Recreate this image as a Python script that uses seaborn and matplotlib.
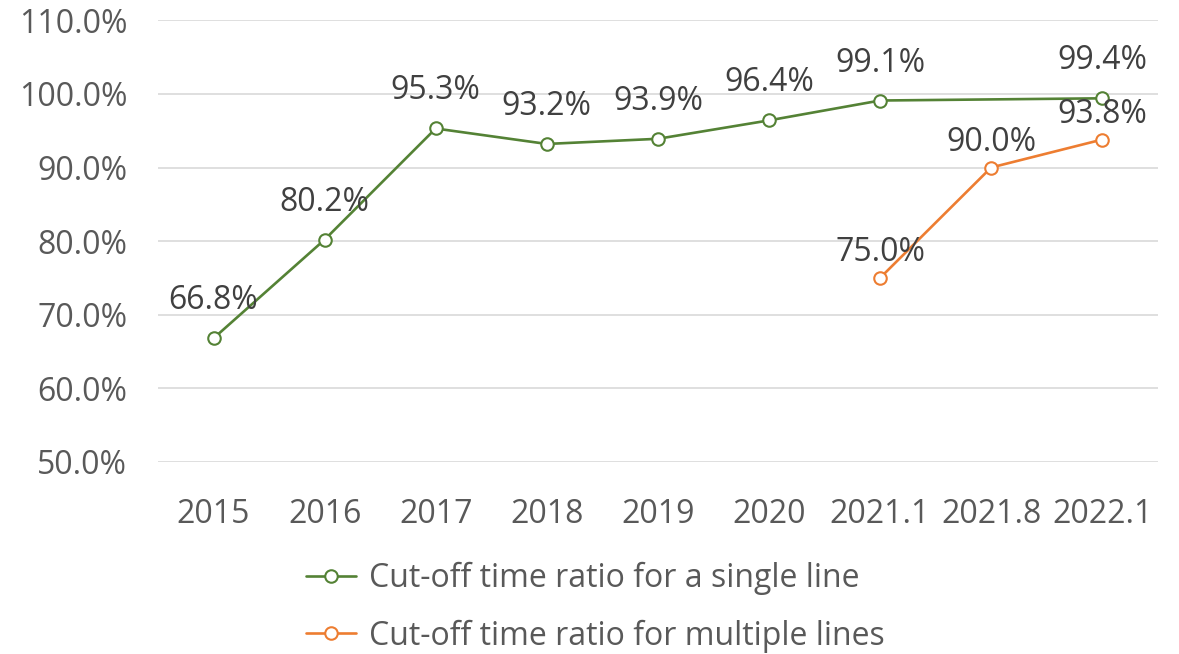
import numpy as np
import pandas as pd
import matplotlib
matplotlib.use("Agg")
import matplotlib.pyplot as plt
import seaborn as sb
from matplotlib.ticker import FuncFormatter

periods = ["2015", "2016", "2017", "2018", "2019", "2020", "2021.1", "2021.8", "2022.1"]
single_line = [66.8, 80.2, 95.3, 93.2, 93.9, 96.4, 99.1, None, 99.4]
multi_line = [None, None, None, None, None, None, 75.0, 90.0, 93.8]
series_names = ["Cut-off time ratio for a single line",
                "Cut-off time ratio for multiple lines"]

colors = ["#548235", "#ED7D31"]

sb.set_style("white")
plt.rcParams["font.family"] = ["Open Sans", "DejaVu Sans"]

rows = []
for i, p in enumerate(periods):
    rows.append({"pos": i, "value": single_line[i], "series": series_names[0]})
    rows.append({"pos": i, "value": multi_line[i], "series": series_names[1]})
df = pd.DataFrame(rows).dropna()

fig = plt.figure(figsize=(11.79, 6.54), dpi=100)
ax = fig.add_axes([0.134, 0.2936, 0.848, 0.6754])

# data labels sit higher over the green line than the orange one
offsets = {series_names[0]: 27, series_names[1]: 18}
for name, c in zip(series_names, colors):
    sub = df[df["series"] == name]
    sb.lineplot(data=sub, x="pos", y="value", color=c, marker="o", markersize=9,
                markerfacecolor="white", markeredgecolor=c, markeredgewidth=1.5,
                linewidth=1.9, ax=ax, legend=False)
    for _, r in sub.iterrows():
        ax.annotate(f"{r['value']:.1f}%", (r["pos"], r["value"]),
                    xytext=(0, offsets[name]), textcoords="offset points",
                    ha="center", va="center", fontsize=23, color="#404040")

ax.set_xlim(-0.5, len(periods) - 0.5)
ax.set_ylim(50, 110)
ax.set_yticks(np.arange(50, 111, 10))
ax.yaxis.set_major_formatter(FuncFormatter(lambda v, _: f"{v:.1f}%"))
ax.set_xticks(range(len(periods)))
ax.set_xticklabels(periods)
ax.set(xlabel="", ylabel="")
ax.tick_params(axis="y", length=0, pad=22, labelsize=23, labelcolor="#595959")
ax.tick_params(axis="x", length=0, pad=26, labelsize=23, labelcolor="#595959")
ax.grid(axis="y", color="#d9d9d9", linewidth=1.2)
ax.set_axisbelow(True)
for s in ax.spines.values():
    s.set_visible(False)

handles = [plt.Line2D([], [], color=c, marker="o", markersize=9,
                      markerfacecolor="white", markeredgewidth=1.5, linewidth=1.9)
           for c in colors]
leg = fig.legend(handles, series_names, loc="upper left",
                 bbox_to_anchor=(0.249, 0.16), frameon=False, fontsize=23,
                 handlelength=1.55, handletextpad=0.4, labelspacing=0.75,
                 borderaxespad=0)
for t in leg.get_texts():
    t.set_color("#595959")

fig.savefig("out.png", dpi=100)
